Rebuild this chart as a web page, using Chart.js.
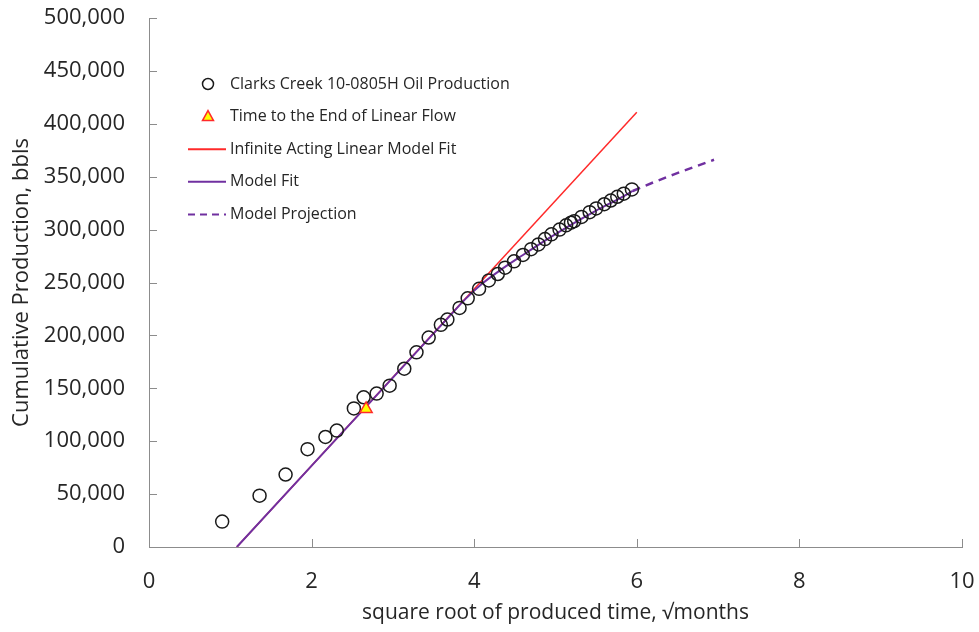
<!DOCTYPE html>
<html>
<head>
<meta charset="utf-8">
<title>Cumulative Production vs square root of time</title>
<script src="https://cdn.jsdelivr.net/npm/chart.js@4.4.1/dist/chart.umd.min.js"></script>
<style>
  html, body { margin: 0; padding: 0; background: #fff; }
  #wrap { width: 979px; height: 632px; }
</style>
</head>
<body>
<div id="wrap"><canvas id="chart" width="979" height="632"></canvas></div>
<script>
// observed production (sqrt months vs cumulative bbls)
const prodX = [0.90, 1.36, 1.68, 1.95, 2.17, 2.31, 2.52, 2.64, 2.80, 2.96, 3.14, 3.29, 3.44, 3.59, 3.67, 3.82, 3.92,
               4.06, 4.18, 4.29, 4.38, 4.49, 4.60, 4.70, 4.79, 4.87, 4.95, 5.05, 5.13, 5.19, 5.23, 5.32, 5.42, 5.50,
               5.60, 5.68, 5.76, 5.84, 5.94];
const prodY = [24000, 48500, 68500, 92500, 104000, 110000, 131000, 141500, 145000, 152500, 168500, 184000, 198000,
               210000, 215000, 226000, 235000, 244000, 252000, 258000, 264000, 270000, 276000, 281500, 286000, 291000,
               295500, 300000, 304000, 306500, 308000, 312000, 316500, 320000, 324000, 327500, 331000, 334000, 338000];

// end of linear flow marker
const elfX = [2.67];
const elfY = [130500];

// infinite acting linear model
const linX = [1.08, 6.0];
const linY = [0, 411000];

// model fit and projection
const fitX = [1.08, 3.70, 3.90, 4.10, 4.30, 4.60, 4.90, 5.20, 5.50, 5.80, 5.95];
const fitY = [0, 218500, 235000, 249000, 260500, 276000, 291000, 305000, 318000, 330000, 336500];
const projX = [5.95, 6.20, 6.45, 6.70, 6.95];
const projY = [336500, 344500, 352000, 359000, 366000];

const xTicks = [0, 2, 4, 6, 8, 10];
const yTicks = [0, 50000, 100000, 150000, 200000, 250000, 300000, 350000, 400000, 450000, 500000];

const legendLabels = [
    'Clarks Creek 10-0805H Oil Production',
    'Time to the End of Linear Flow',
    'Infinite Acting Linear Model Fit',
    'Model Fit',
    'Model Projection'
];

const PURPLE = '#7030A0';
const RED = '#FF2A2A';
const AXIS = '#8C8C8C';
const TEXT = '#262626';
const FONT = '"Open Sans", "Noto Sans", sans-serif';

function pts(xs, ys) {
    return xs.map((x, i) => ({ x: x, y: ys[i] }));
}

// draws inward tick marks on both axes, using the scales
const innerTicks = {
    id: 'innerTicks',
    afterDraw(chart) {
        const ctx = chart.ctx;
        const xs = chart.scales.x, ys = chart.scales.y;
        const area = chart.chartArea;
        ctx.save();
        ctx.strokeStyle = AXIS;
        ctx.lineWidth = 1;
        ctx.beginPath();
        xTicks.forEach(v => {
            const px = Math.round(xs.getPixelForValue(v)) + 0.5;
            ctx.moveTo(px, area.bottom);
            ctx.lineTo(px, area.bottom - 8);
        });
        yTicks.forEach(v => {
            const py = Math.round(ys.getPixelForValue(v)) + 0.5;
            ctx.moveTo(area.left, py);
            ctx.lineTo(area.left + 8, py);
        });
        ctx.stroke();
        ctx.restore();
    }
};

// legend drawn inside the plot, Excel style
const insideLegend = {
    id: 'insideLegend',
    afterDraw(chart) {
        const ctx = chart.ctx;
        const mx = 208, tx = 230, y0 = 84, dy = 32.6;
        ctx.save();
        ctx.font = '16px ' + FONT;
        ctx.textBaseline = 'middle';
        legendLabels.forEach((label, i) => {
            ctx.fillStyle = TEXT;
            ctx.fillText(label, tx, y0 + i * dy);
        });

        // marker: circle
        ctx.lineWidth = 1.5;
        ctx.strokeStyle = '#1a1a1a';
        ctx.beginPath();
        ctx.arc(mx, y0, 5.5, 0, Math.PI * 2);
        ctx.stroke();

        // marker: triangle
        const y = y0 + dy;
        ctx.beginPath();
        ctx.moveTo(mx, y - 6);
        ctx.lineTo(mx + 5.5, y + 4);
        ctx.lineTo(mx - 5.5, y + 4);
        ctx.closePath();
        ctx.fillStyle = '#FFFF00';
        ctx.fill();
        ctx.strokeStyle = RED;
        ctx.lineWidth = 1.5;
        ctx.stroke();

        // line samples
        const lines = [[RED, []], [PURPLE, []], [PURPLE, [7, 5]]];
        lines.forEach((l, k) => {
            const ly = y0 + (k + 2) * dy;
            ctx.beginPath();
            ctx.strokeStyle = l[0];
            ctx.lineWidth = 2;
            ctx.setLineDash(l[1]);
            ctx.moveTo(188, ly);
            ctx.lineTo(226, ly);
            ctx.stroke();
        });
        ctx.restore();
    }
};

new Chart(document.getElementById('chart'), {
    type: 'scatter',
    data: {
        datasets: [
            {
                label: legendLabels[1],
                data: pts(elfX, elfY),
                pointStyle: 'triangle',
                pointRadius: 7,
                backgroundColor: '#FFFF00',
                borderColor: RED,
                borderWidth: 1.5,
                order: 0
            },
            {
                label: legendLabels[0],
                data: pts(prodX, prodY),
                pointStyle: 'circle',
                pointRadius: 6.5,
                backgroundColor: 'rgba(0,0,0,0)',
                borderColor: '#1a1a1a',
                borderWidth: 1.5,
                order: 1
            },
            {
                label: legendLabels[3],
                data: pts(fitX, fitY),
                showLine: true,
                pointRadius: 0,
                borderColor: PURPLE,
                borderWidth: 2,
                cubicInterpolationMode: 'monotone',
                order: 2
            },
            {
                label: legendLabels[4],
                data: pts(projX, projY),
                showLine: true,
                pointRadius: 0,
                borderColor: PURPLE,
                borderWidth: 2.5,
                borderDash: [8, 6],
                cubicInterpolationMode: 'monotone',
                order: 3
            },
            {
                label: legendLabels[2],
                data: pts(linX, linY),
                showLine: true,
                pointRadius: 0,
                borderColor: RED,
                borderWidth: 1.5,
                order: 4
            }
        ]
    },
    options: {
        responsive: false,
        animation: false,
        layout: { padding: { top: 18, right: 17, left: 0, bottom: 0 } },
        plugins: {
            legend: { display: false },
            tooltip: { enabled: false }
        },
        scales: {
            x: {
                type: 'linear',
                min: 0,
                max: 10,
                grid: { display: false },
                border: { display: true, color: AXIS, width: 1 },
                ticks: {
                    stepSize: 2,
                    padding: 14,
                    color: TEXT,
                    font: { family: FONT, size: 22 }
                },
                title: {
                    display: true,
                    text: 'square root of produced time, √months',
                    color: TEXT,
                    font: { family: FONT, size: 21 },
                    padding: { top: 0, bottom: 6 }
                },
                afterFit(scale) {
                    scale.height = 85;
                    scale.paddingLeft = 0;
                    scale.paddingRight = 0;
                }
            },
            y: {
                type: 'linear',
                min: 0,
                max: 500000,
                grid: { display: false },
                border: { display: true, color: AXIS, width: 1 },
                ticks: {
                    stepSize: 50000,
                    padding: 16,
                    color: TEXT,
                    font: { family: FONT, size: 22 },
                    callback: v => v.toLocaleString('en-US')
                },
                title: {
                    display: true,
                    text: 'Cumulative Production, bbls',
                    color: TEXT,
                    font: { family: FONT, size: 22 },
                    padding: { top: 9, bottom: 0 }
                },
                afterFit(scale) {
                    scale.width = 149;
                    scale.paddingTop = 0;
                    scale.paddingBottom = 0;
                }
            }
        }
    },
    plugins: [innerTicks, insideLegend]
});
</script>
</body>
</html>
